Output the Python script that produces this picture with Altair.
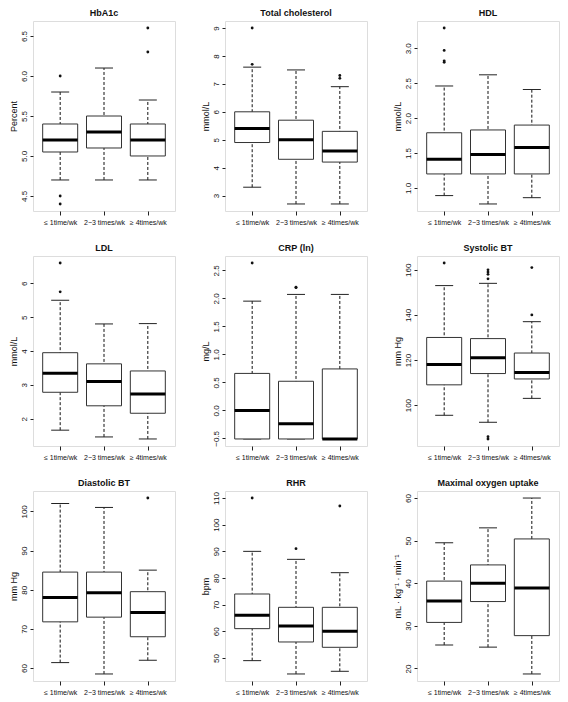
import altair as alt
import pandas as pd

groups = ["≤ 1time/wk", "2−3 times/wk", "≥ 4times/wk"]

titles = ["HbA1c", "Total cholesterol", "HDL", "LDL", "CRP (ln)", "Systolic BT",
          "Diastolic BT", "RHR", "Maximal oxygen uptake"]
ylabels = ["Percent", "mmol/L", "mmol/L", "mmol/L", "mg/L", "mm Hg", "mm Hg", "bpm",
           "mL · kg⁻¹ · min⁻¹"]

lower_whisker = [[4.7, 4.7, 4.7], [3.3, 2.7, 2.7], [0.89, 0.77, 0.86],
                 [1.66, 1.46, 1.40], [-0.51, -0.51, -0.51], [95.5, 92.4, 103],
                 [61.4, 58.5, 62], [49, 44, 45], [25.5, 25, 18.7]]
q1 = [[5.05, 5.1, 5.0], [4.9, 4.3, 4.2], [1.2, 1.2, 1.2],
      [2.78, 2.38, 2.16], [-0.51, -0.51, -0.51], [109, 114, 111.6],
      [71.8, 73, 68], [61, 56, 54], [30.8, 35.7, 27.7]]
median = [[5.2, 5.3, 5.2], [5.4, 5.0, 4.6], [1.41, 1.48, 1.58],
          [3.34, 3.10, 2.73], [0.0, -0.24, -0.51], [118, 121, 114.5],
          [78, 79.2, 74.2], [66, 62, 60], [35.8, 40, 38.9]]
q3 = [[5.4, 5.5, 5.4], [6.0, 5.7, 5.3], [1.79, 1.83, 1.9],
      [3.95, 3.62, 3.41], [0.66, 0.52, 0.74], [130, 129.5, 123.1],
      [84.5, 84.5, 79.5], [74, 69, 69], [40.5, 44.3, 50.4]]
upper_whisker = [[5.8, 6.1, 5.7], [7.6, 7.5, 6.9], [2.46, 2.62, 2.41],
                 [5.5, 4.8, 4.81], [1.95, 2.07, 2.07], [153, 154, 137],
                 [102, 101, 85], [90, 87, 82], [49.5, 53, 60]]
outliers = [
    [[6.0, 4.5, 4.4], [], [6.3, 6.6]],
    [[9.0, 7.7], [], [7.2, 7.3]],
    [[3.29, 2.97, 2.82, 2.80], [], []],
    [[6.6, 5.75], [], []],
    [[2.63], [2.19, 2.2], []],
    [[163], [160, 159, 158, 156, 85, 86], [140, 161]],
    [[], [], [103.4]],
    [[110], [91], [107]],
    [[], [], []],
]
y_ticks = [
    [4.5, 5.0, 5.5, 6.0, 6.5],
    [3, 4, 5, 6, 7, 8, 9],
    [1.0, 1.5, 2.0, 2.5, 3.0],
    [2, 3, 4, 5, 6],
    [-0.5, 0.0, 0.5, 1.0, 1.5, 2.0, 2.5],
    [100, 120, 140, 160],
    [60, 70, 80, 90, 100],
    [50, 60, 70, 80, 90, 100, 110],
    [20, 30, 40, 50, 60],
]
tick_formats = [".1f", "d", ".1f", "d", ".1f", "d", "d", "d", "d"]

FONT = "Liberation Sans"
W, H = 142, 190
BOXW = 35
CAPW = 18


def panel(i):
    df = pd.DataFrame({"group": groups, "lo": lower_whisker[i], "q1": q1[i],
                       "med": median[i], "q3": q3[i], "hi": upper_whisker[i]})
    out = pd.DataFrame([{"group": g, "v": v}
                        for g, vals in zip(groups, outliers[i]) for v in vals],
                       columns=["group", "v"])
    allv = lower_whisker[i] + upper_whisker[i] + [v for o in outliers[i] for v in o]
    lo, hi = min(allv), max(allv)
    pad = 0.04 * (hi - lo)
    yscale = alt.Scale(domain=[lo - pad, hi + pad], nice=False, zero=False)
    yaxis = alt.Axis(title=ylabels[i], values=y_ticks[i], format=tick_formats[i],
                     labelAngle=270, labelAlign="center", labelBaseline="bottom",
                     grid=False, domain=False, tickSize=3, tickColor="#222",
                     labelPadding=2, titlePadding=2, labelFontSize=8,
                     titleFontSize=9, titleFontWeight="normal", labelColor="#111",
                     titleColor="#111", labelFont=FONT, titleFont=FONT)

    def Y(f):
        return alt.Y(f, type="quantitative", scale=yscale, axis=yaxis)

    X = alt.X("group:N", sort=groups,
              scale=alt.Scale(type="point", domain=groups, padding=0.62),
              axis=alt.Axis(title=None, labelAngle=0, domain=False, tickSize=4,
                            tickColor="#222", labelFontSize=7, labelPadding=3,
                            labelColor="#111", labelFont=FONT))

    base = alt.Chart(df)
    whisk = base.mark_rule(strokeDash=[3, 2], color="#111", strokeWidth=1).encode(
        x=X, y=Y("lo"), y2="hi")
    box = base.mark_bar(size=BOXW, fill="white", stroke="#333", strokeWidth=1).encode(
        x=X, y=Y("q1"), y2="q3")
    cap_lo = base.mark_tick(size=CAPW, thickness=1, color="#222", opacity=1).encode(
        x=X, y=Y("lo"))
    cap_hi = base.mark_tick(size=CAPW, thickness=1, color="#222", opacity=1).encode(
        x=X, y=Y("hi"))
    med = base.mark_tick(size=BOXW, thickness=3, color="#000", opacity=1).encode(
        x=X, y=Y("med"))
    layers = [whisk, cap_lo, cap_hi, box, med]
    if len(out):
        pts = alt.Chart(out).mark_circle(size=8, color="#111", opacity=1).encode(
            x=X, y=Y("v"))
        layers.append(pts)
    return alt.layer(*layers).properties(
        width=W, height=H,
        title=alt.TitleParams(titles[i], fontSize=9, fontWeight="bold", font=FONT,
                              offset=3, anchor="middle", color="#111"))


chart = alt.concat(*[panel(i) for i in range(9)], columns=3,
                   spacing={"row": 17, "column": 24}).properties(
    padding=0
).configure_view(stroke="#222", strokeWidth=1).configure(background="white")

chart.save("out.html", embed_options={"renderer": "svg", "actions": False})
